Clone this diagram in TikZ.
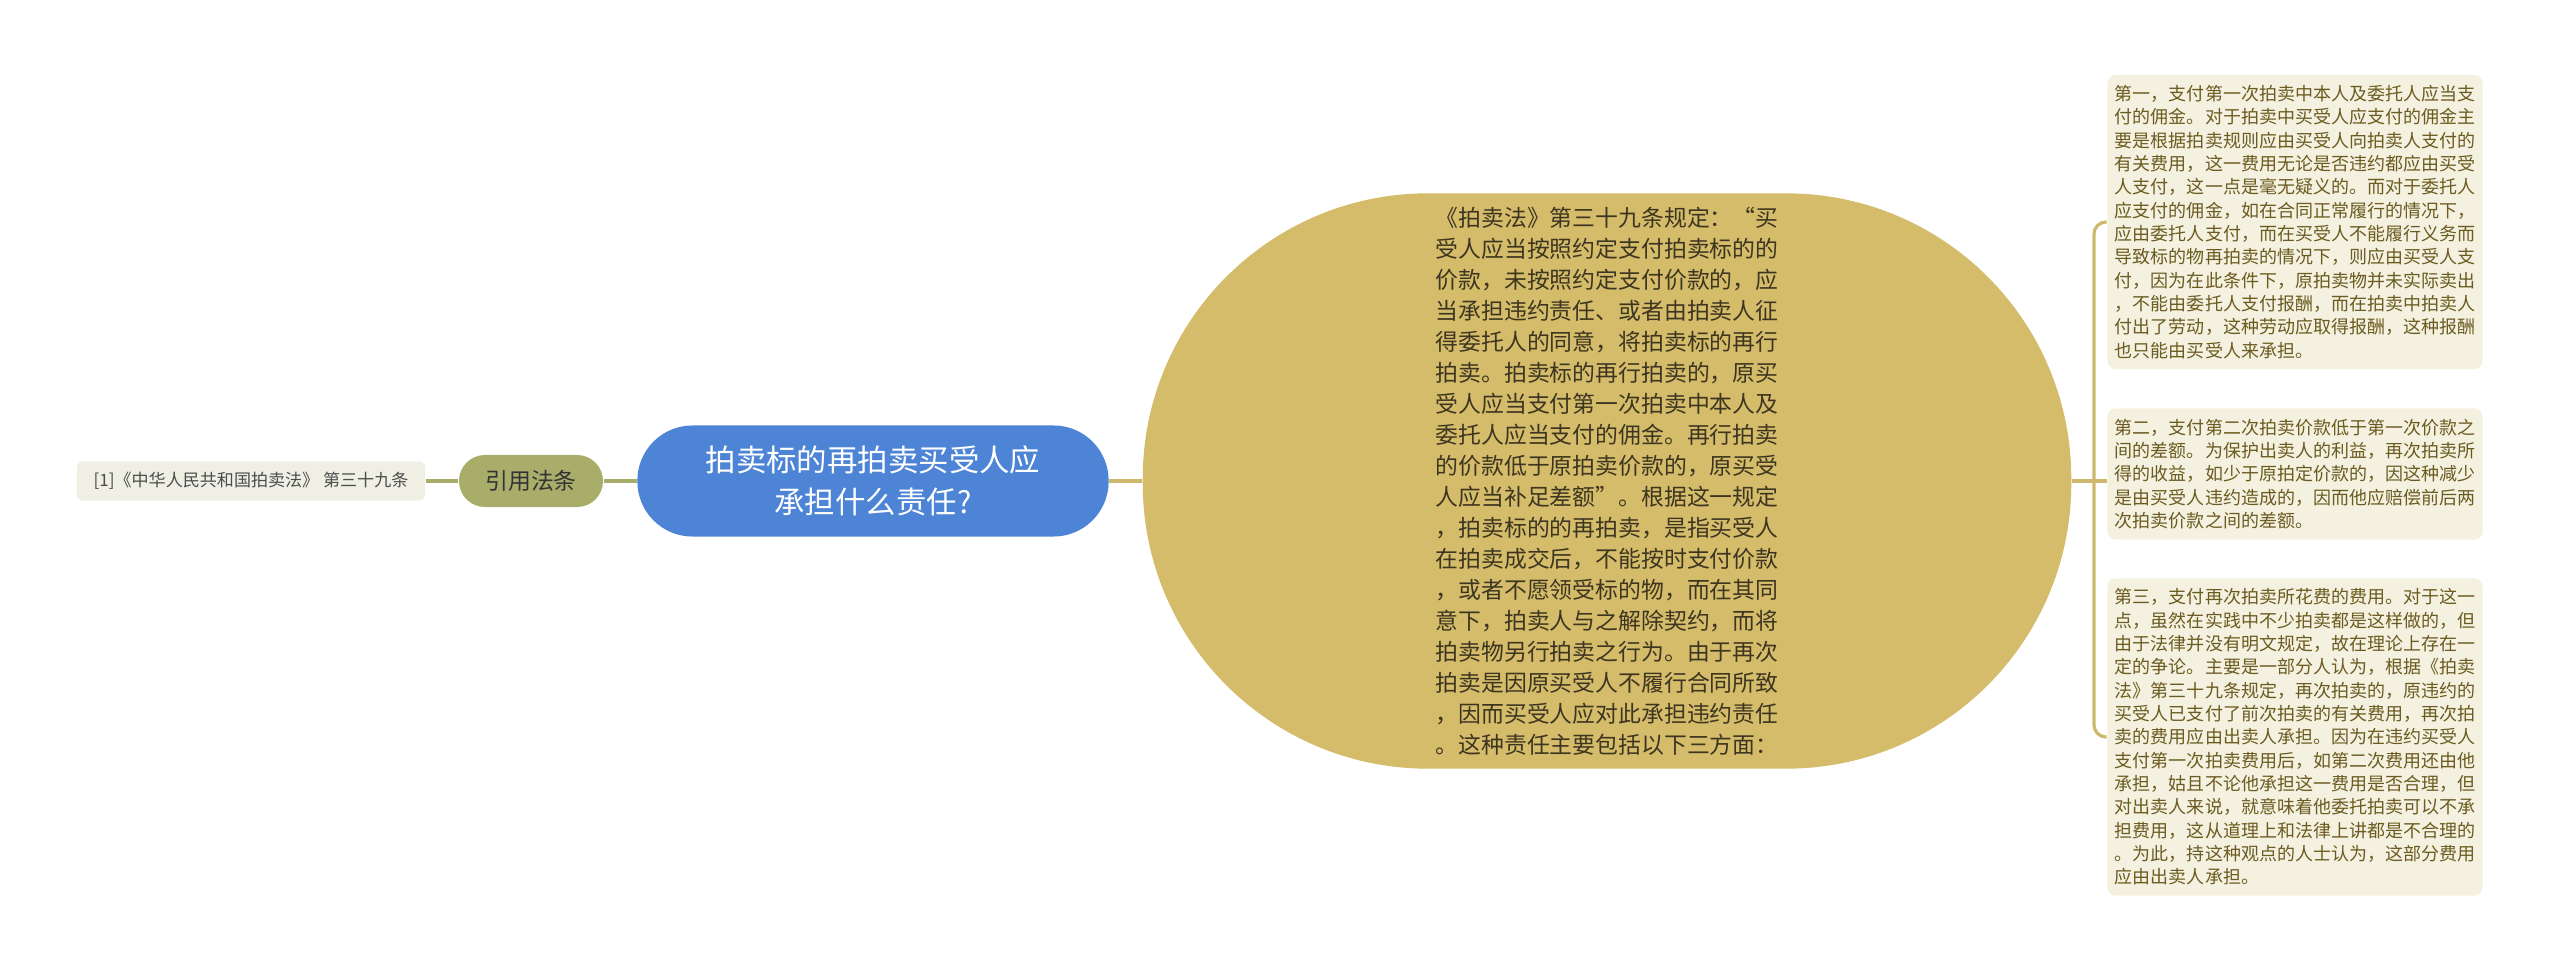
\documentclass[tikz,border=0pt]{standalone}
\usepackage{fontspec}
\setmainfont{Noto Sans CJK SC}
\definecolor{rootblue}{HTML}{4D84D6}
\definecolor{lawgold}{HTML}{D4BC6A}
\definecolor{citeolive}{HTML}{A8AD6A}
\definecolor{itemcream}{HTML}{F4F1E1}
\definecolor{leafgray}{HTML}{F0EFE4}
\definecolor{itemtext}{HTML}{6B5B1F}
\definecolor{lawtext}{HTML}{3D3520}
\definecolor{rightwire}{HTML}{CDB86C}
\begin{document}
\begin{tikzpicture}[x=0.01cm,y=-0.01cm,
    rootnode/.style={fill=rootblue,text=white,rounded corners=0.55cm,minimum width=4.71cm,minimum height=1.11cm,
        align=center,font=\fontsize{8.65}{12.1}\selectfont},
    citenode/.style={fill=citeolive,text=black!80,rounded corners=0.26cm,minimum width=1.44cm,minimum height=0.52cm,
        font=\fontsize{6.5}{8}\selectfont},
    leafnode/.style={fill=leafgray,text=black!70,rounded corners=0.06cm,minimum width=3.48cm,minimum height=0.39cm,
        inner sep=0pt,font=\fontsize{4.85}{6}\selectfont},
    lawnode/.style={fill=lawgold,text=lawtext,rounded corners=2.85cm,minimum width=9.28cm,minimum height=5.75cm,
        align=left,font=\fontsize{6.5}{8.82}\selectfont},
    itembox/.style={fill=itemcream,text=itemtext,rounded corners=0.08cm,minimum width=3.75cm,
        align=left,inner sep=0pt,font=\fontsize{5.12}{6.63}\selectfont},
    leftline/.style={draw=citeolive,line width=0.9pt},
    rightline/.style={draw=rightwire,line width=0.9pt}]

    \useasboundingbox (0,0) rectangle (2560,973);

    \node[rootnode] (root) at (873,481) {拍卖标的再拍卖买受人应\\承担什么责任?};
    \node[citenode] (cite) at (531,481) {引用法条};
    \node[leafnode] (leaf) at (251,481) {[1]《中华人民共和国拍卖法》 第三十九条};

    \node[lawnode] (law) at (1607,481) {《拍卖法》第三十九条规定：“买\\受人应当按照约定支付拍卖标的的\\价款，未按照约定支付价款的，应\\当承担违约责任、或者由拍卖人征\\得委托人的同意，将拍卖标的再行\\拍卖。拍卖标的再行拍卖的，原买\\受人应当支付第一次拍卖中本人及\\委托人应当支付的佣金。再行拍卖\\的价款低于原拍卖价款的，原买受\\人应当补足差额”。根据这一规定\\，拍卖标的的再拍卖，是指买受人\\在拍卖成交后，不能按时支付价款\\，或者不愿领受标的物，而在其同\\意下，拍卖人与之解除契约，而将\\拍卖物另行拍卖之行为。由于再次\\拍卖是因原买受人不履行合同所致\\，因而买受人应对此承担违约责任\\。这种责任主要包括以下三方面：};

    \node[itembox,minimum height=2.94cm] (first) at (2295,222) {第一，支付第一次拍卖中本人及委托人应当支\\付的佣金。对于拍卖中买受人应支付的佣金主\\要是根据拍卖规则应由买受人向拍卖人支付的\\有关费用，这一费用无论是否违约都应由买受\\人支付，这一点是毫无疑义的。而对于委托人\\应支付的佣金，如在合同正常履行的情况下，\\应由委托人支付，而在买受人不能履行义务而\\导致标的物再拍卖的情况下，则应由买受人支\\付，因为在此条件下，原拍卖物并未实际卖出\\，不能由委托人支付报酬，而在拍卖中拍卖人\\付出了劳动，这种劳动应取得报酬，这种报酬\\也只能由买受人来承担。};
    \node[itembox,minimum height=1.31cm] (second) at (2295,474) {第二，支付第二次拍卖价款低于第一次价款之\\间的差额。为保护出卖人的利益，再次拍卖所\\得的收益，如少于原拍定价款的，因这种减少\\是由买受人违约造成的，因而他应赔偿前后两\\次拍卖价款之间的差额。};
    \node[itembox,minimum height=3.17cm] (third) at (2295,737) {第三，支付再次拍卖所花费的费用。对于这一\\点，虽然在实践中不少拍卖都是这样做的，但\\由于法律并没有明文规定，故在理论上存在一\\定的争论。主要是一部分人认为，根据《拍卖\\法》第三十九条规定，再次拍卖的，原违约的\\买受人已支付了前次拍卖的有关费用，再次拍\\卖的费用应由出卖人承担。因为在违约买受人\\支付第一次拍卖费用后，如第二次费用还由他\\承担，姑且不论他承担这一费用是否合理，但\\对出卖人来说，就意味着他委托拍卖可以不承\\担费用，这从道理上和法律上讲都是不合理的\\。为此，持这种观点的人士认为，这部分费用\\应由出卖人承担。};

    \coordinate (hub) at (2094,481);

    \draw[leftline] (root.west) -- (cite.east);
    \draw[leftline] (cite.west) -- (leaf.east);
    \draw[rightline] (root.east) -- (law.west);
    \draw[rightline] (law.east) -- (hub);
    \draw[rightline,rounded corners=0.12cm] (hub) |- (first.west);
    \draw[rightline] (hub) -- (hub -| second.west);
    \draw[rightline,rounded corners=0.12cm] (hub) |- (third.west);

\end{tikzpicture}
\end{document}
